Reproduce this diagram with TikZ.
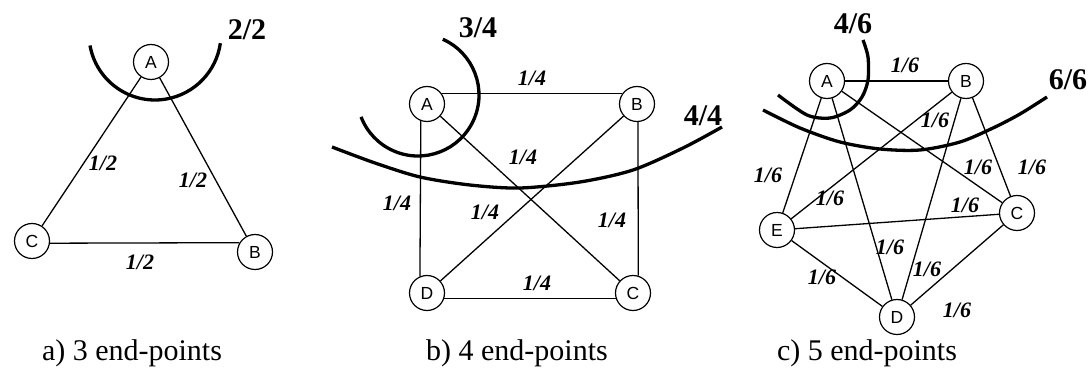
\documentclass[tikz,border=0pt]{standalone}
\usepackage{fontspec}
\setmainfont{Liberation Serif}
\newfontfamily\nodefont{Liberation Sans}
\usetikzlibrary{positioning}

\begin{document}
\begin{tikzpicture}[x=0.5pt,y=-0.5pt,
  v/.style={draw,circle,line width=0.6pt,minimum size=17.5pt,inner sep=0pt,font=\nodefont\fontsize{8.75}{9}\selectfont},
  e/.style={line width=0.65pt},
  w/.style={font=\bfseries\itshape\fontsize{11}{12}\selectfont,inner sep=0pt},
  cut/.style={line width=1.65pt},
  cl/.style={font=\bfseries\fontsize{15}{16}\selectfont,inner sep=0pt},
  capt/.style={font=\fontsize{15}{16}\selectfont,anchor=base,inner sep=0pt}]
\useasboundingbox (0,0) rectangle (1092,379);
% a) 3 end-points
\node[v] (aA) at (151,62)  {A};
\node[v] (aB) at (255,252) {B};
\node[v] (aC) at (32,241)  {C};
\draw[e] (aA) -- (aC);
\draw[e] (aA) -- (aB);
\draw[e] (aC.-7) -- (aB.149);
\draw[cut] (155,34) ++(170:66) arc[start angle=170,end angle=8,radius=66];
\node[cl] (ka) at (247,30) {2/2};
\foreach \n/\x/\y in {1/103/163,2/193/180,3/140/262}
  \node[w] (la\n) at (\x,\y) {1/2};
\node[capt] (capa) at (132,360) {a) 3 end-points};
% b) 4 end-points
\node[v] (bA) at (427,104) {A};
\node[v] (bB) at (637,104) {B};
\node[v] (bC) at (633,293) {C};
\node[v] (bD) at (427,293) {D};
\draw[e] (bA.36) -- (bB.144);
\draw[e] (bD.-17) -- (bC.-163);
\draw[e] (bA.250) -- (bD.113);
\draw[e] (bB.-87) -- (bC.73);
\draw[e] (bA) -- (bC);
\draw[e] (bB) -- (bD);
\draw[cut] (418,95) ++(-66:61) arc[start angle=-66,end angle=159,radius=61];
\draw[cut] plot[smooth] coordinates {(332,147) (375,163) (420,177) (470,185) (520,188) (580,182) (633,170) (683,148) (722,127)};
\node[cl] (kb1) at (478,28)  {3/4};
\node[cl] (kb2) at (703,116) {4/4};
\foreach \n/\x/\y in {1/532/78,2/523/157,3/397/203,4/485/212,5/612/220,6/537/283}
  \node[w] (lb\n) at (\x,\y) {1/4};
\node[capt] (capb) at (517,360) {b) 4 end-points};
% c) 5 end-points
\node[v] (cA) at (827,81)  {A};
\node[v] (cB) at (966,81)  {B};
\node[v] (cC) at (1017,213) {C};
\node[v] (cD) at (897,317) {D};
\node[v] (cE) at (777,230) {E};
\foreach \p/\q in {A/B,A/C,A/D,A/E,B/C,B/D,B/E,C/D,C/E,D/E}
  \draw[e] (c\p) -- (c\q);
\draw[cut] plot[smooth] coordinates {(863,40) (868,57) (868,80) (862,97) (850,110) (830,118) (807,115) (778,95)};
\draw[cut] plot[smooth] coordinates {(763,110) (800,128) (840,142) (880,149) (920,150) (960,142) (993,128) (1020,114) (1047,97)};
\node[cl] (kc1) at (853,24)  {4/6};
\node[cl] (kc2) at (1068,80) {6/6};
\foreach \n/\x/\y in {1/905/65,2/935/120,3/768/175,4/830/198,5/978/167,6/1032/167,7/965/205,8/890/247,9/927/269,10/822/277,11/957/310}
  \node[w] (lc\n) at (\x,\y) {1/6};
\node[capt] (capc) at (867,360) {c) 5 end-points};
\end{tikzpicture}
\end{document}
